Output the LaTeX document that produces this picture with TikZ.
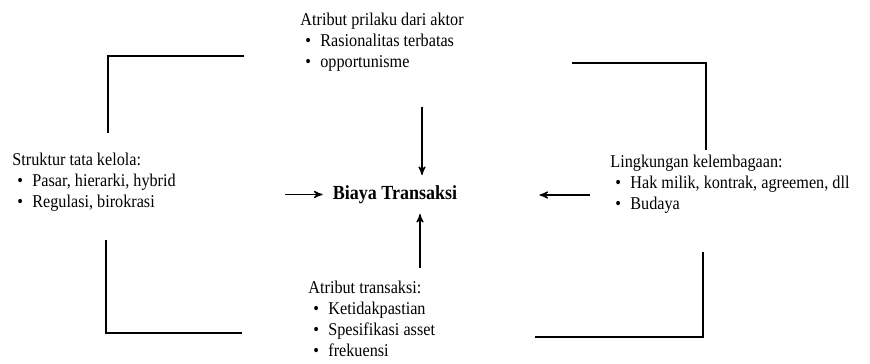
\documentclass[tikz,border=0pt]{standalone}
\usepackage{fontspec}
\setmainfont[FakeStretch=0.9]{Liberation Serif}
\usetikzlibrary{arrows}

\newcommand{\bitem}{\hspace*{2.5pt}\makebox[7.5pt][l]{\textbullet}}

\begin{document}
\begin{tikzpicture}[
  x=0.5pt, y=-0.5pt,
  font=\fontsize{9}{10.5}\selectfont,
  attribute/.style={anchor=north west, inner sep=0pt, align=left},
  cost/.style={font=\fontsize{10}{11}\selectfont\bfseries, inner sep=5pt},
  depends/.style={->, >=stealth', semithick},
  corner/.style={-, thick}]

  \useasboundingbox (0,0) rectangle (870,363);

  % Position the nodes at the spots of the scan
  \node[cost] (biaya) at (395,194.5) {Biaya Transaksi};
  \node[attribute] (aktor) at (300,13)
    {Atribut prilaku dari aktor \\ \bitem Rasionalitas terbatas \\ \bitem opportunisme};
  \node[attribute] (tatakelola) at (12,153)
    {Struktur tata kelola: \\ \bitem Pasar, hierarki, hybrid \\ \bitem Regulasi, birokrasi};
  \node[attribute] (kelembagaan) at (610,155)
    {Lingkungan kelembagaan: \\ \bitem Hak milik, kontrak, agreemen, dll \\ \bitem Budaya};
  \node[attribute] (transaksi) at (308,281)
    {Atribut transaksi: \\ \bitem Ketidakpastian \\ \bitem Spesifikasi asset \\ \bitem frekuensi};

  % Arrow tails
  \coordinate (aktor-tail) at (422,107);
  \coordinate (tatakelola-tail) at (285,194.5);
  \coordinate (kelembagaan-tail) at (590,195);
  \coordinate (transaksi-tail) at (420,268);

  \draw[depends] (aktor-tail) -- (aktor-tail |- biaya.north);
  \draw[depends] (tatakelola-tail) -- (biaya.west);
  \draw[depends, shorten >=36pt] (kelembagaan-tail) -- (biaya.east |- kelembagaan-tail);
  \draw[depends] (transaksi-tail) -- (transaksi-tail |- biaya.south);

  % Corners of the frame
  \coordinate (tl-a) at (244,56);  \coordinate (tl-b) at (108,56);  \coordinate (tl-c) at (108,133);
  \coordinate (tr-a) at (572,63);  \coordinate (tr-b) at (706,63);  \coordinate (tr-c) at (706,150);
  \coordinate (bl-a) at (106,240); \coordinate (bl-b) at (106,333); \coordinate (bl-c) at (242,333);
  \coordinate (br-a) at (703,252); \coordinate (br-b) at (703,337); \coordinate (br-c) at (535,337);
  \draw[corner] (tl-a) -- (tl-b) -- (tl-c);
  \draw[corner] (tr-a) -- (tr-b) -- (tr-c);
  \draw[corner] (bl-a) -- (bl-b) -- (bl-c);
  \draw[corner] (br-a) -- (br-b) -- (br-c);

\end{tikzpicture}
\end{document}
